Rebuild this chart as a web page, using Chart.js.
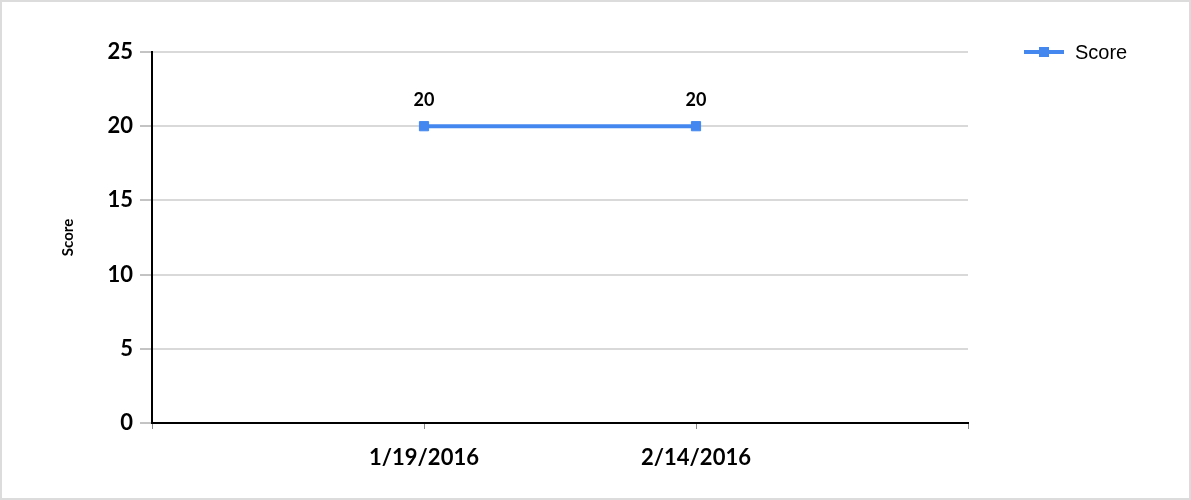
<!DOCTYPE html>
<html>
<head>
<meta charset="utf-8">
<script src="https://cdn.jsdelivr.net/npm/chart.js@4"></script>
<style>
  body { margin: 0; background: #fff; }
  #wrap { width: 1191px; height: 500px; box-sizing: border-box; border: 2px solid #dcdcdc; }
</style>
</head>
<body>
<div id="wrap"><canvas id="myChart"></canvas></div>
<script>
var dates = ["1/19/2016", "2/14/2016"];
var scores = [20, 20];
var yTicks = [0, 5, 10, 15, 20, 25];
var seriesName = "Score";
var lineColor = "#4387ef";

// empty slots either side so the two dates sit at 1/3 and 2/3 of the axis
var labels = [""].concat(dates, [""]);
var values = [null].concat(scores, [null]);

// value labels above each point
var pointLabels = {
	id: 'pointLabels',
	afterDatasetsDraw: function(chart) {
		var ctx = chart.ctx;
		chart.data.datasets.forEach(function(ds, i) {
			chart.getDatasetMeta(i).data.forEach(function(pt, j) {
				var v = ds.data[j];
				if (v == null) return;
				ctx.save();
				ctx.font = 'bold 18px Lato';
				ctx.fillStyle = '#000';
				ctx.textAlign = 'center';
				ctx.textBaseline = 'middle';
				ctx.fillText(v, pt.x, pt.y - 26);
				ctx.restore();
			});
		});
	}
};

// legend: line with a square marker, right of the plot
var lineLegend = {
	id: 'lineLegend',
	afterDraw: function(chart) {
		var ctx = chart.ctx;
		var x = chart.chartArea.right + 56;
		var y = chart.chartArea.top;
		chart.data.datasets.forEach(function(ds, i) {
			var cy = y + i * 28;
			ctx.save();
			ctx.strokeStyle = ds.borderColor;
			ctx.lineWidth = 4;
			ctx.beginPath();
			ctx.moveTo(x, cy);
			ctx.lineTo(x + 40, cy);
			ctx.stroke();
			ctx.fillStyle = ds.borderColor;
			ctx.fillRect(x + 15, cy - 5, 10, 10);
			ctx.font = '20px "Liberation Sans"';
			ctx.fillStyle = '#000';
			ctx.textBaseline = 'middle';
			ctx.fillText(ds.label, x + 51, cy + 1);
			ctx.restore();
		});
	}
};

var ctx = document.getElementById("myChart").getContext("2d");
new Chart(ctx, {
	type: 'line',
	data: {
		labels: labels,
		datasets: [{
			label: seriesName,
			data: values,
			borderColor: lineColor,
			backgroundColor: lineColor,
			borderWidth: 4,
			pointStyle: 'rect',
			pointRadius: 6.5,
			pointBorderWidth: 1,
			pointBackgroundColor: lineColor,
			pointBorderColor: lineColor,
			tension: 0
		}]
	},
	options: {
		responsive: true,
		maintainAspectRatio: false,
		animation: false,
		layout: { padding: { top: 50, right: 221, left: 0, bottom: 0 } },
		plugins: {
			legend: { display: false },
			tooltip: { enabled: false }
		},
		scales: {
			x: {
				offset: false,
				grid: { drawOnChartArea: false, tickLength: 6, tickColor: '#888', tickWidth: 1 },
				border: { color: '#000', width: 2 },
				ticks: {
					color: '#000',
					font: { family: 'Lato', size: 22, weight: 'bold' },
					padding: 16,
					maxRotation: 0,
					autoSkip: false
				},
				afterFit: function(scale) { scale.height = 75; }
			},
			y: {
				min: yTicks[0],
				max: yTicks[yTicks.length - 1],
				grid: { color: '#d9d9d9', lineWidth: 2, tickLength: 12, tickColor: '#888', tickWidth: 1 },
				border: { color: '#000', width: 2 },
				ticks: {
					stepSize: yTicks[1] - yTicks[0],
					color: '#000',
					font: { family: 'Lato', size: 22, weight: 'bold' },
					padding: 7
				},
				title: {
					display: true,
					text: seriesName,
					color: '#000',
					font: { family: 'Lato', size: 15, weight: 'bold' },
					padding: { top: 57, bottom: 0 }
				},
				afterFit: function(scale) { scale.width = 150; }
			}
		}
	},
	plugins: [pointLabels, lineLegend]
});
</script>
</body>
</html>
